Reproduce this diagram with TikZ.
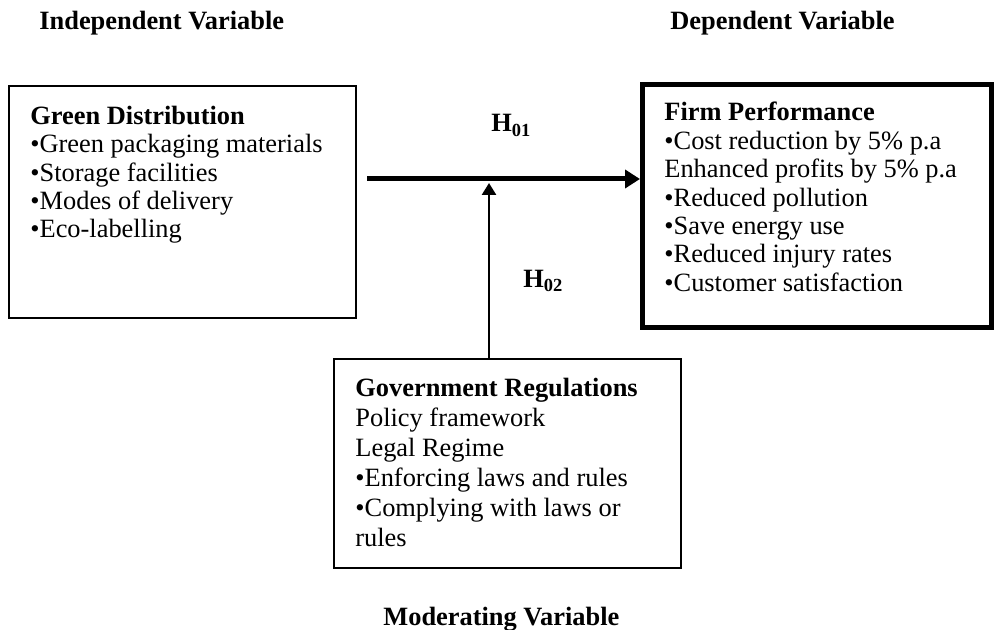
\documentclass[tikz,border=0pt]{standalone}
\usepackage{fontspec}
\setmainfont{Liberation Serif}
\usetikzlibrary{positioning,arrows.meta}

\begin{document}
\begin{tikzpicture}[x=0.5pt,y=-0.5pt,
    font=\fontsize{13.2pt}{14.2pt}\selectfont,
    varbox/.style={draw, line width=0.8pt, anchor=north west, inner sep=0pt},
    boxtext/.style={align=left, inner sep=0pt},
    heading/.style={font=\fontsize{13.2pt}{14.2pt}\selectfont\bfseries, inner sep=0pt, anchor=base west},
    mainarrow/.style={line width=2.5pt, -{Triangle[length=7.5pt,width=9pt]}},
    modarrow/.style={line width=1.3pt, -{Triangle[length=6pt,width=7pt]}}]
  \useasboundingbox (0,0) rectangle (994,630);
  \node[varbox, minimum width=173.5pt, minimum height=116pt] (gd) at (8,85) {};
  \node[varbox, line width=2.5pt, minimum width=174.5pt, minimum height=121.5pt] (fp) at (640,82) {};
  \node[varbox, minimum width=173.5pt, minimum height=104.5pt] (gr) at (333,358) {};
  \node[boxtext, below right=10.3pt and 11pt of gd.north west] (gdtext)
    {\textbf{Green Distribution}\\•Green packaging materials\\•Storage facilities\\•Modes of delivery\\•Eco-labelling};
  \node[boxtext, below right=10pt and 12pt of fp.north west] (fptext)
    {\textbf{Firm Performance}\\•Cost reduction by 5\% p.a\\Enhanced profits by 5\% p.a\\•Reduced pollution\\•Save energy use\\•Reduced injury rates\\•Customer satisfaction};
  \node[boxtext, font=\fontsize{13.2pt}{15pt}\selectfont, below right=9.7pt and 11pt of gr.north west] (grtext)
    {\textbf{Government Regulations}\\Policy framework\\Legal Regime\\•Enforcing laws and rules\\•Complying with laws or\\rules};
  \coordinate (h1start) at (367,179);
  \coordinate (h1join) at (489,179);
  \draw[mainarrow] (h1start) -- (h1start -| fp.west);
  \draw[modarrow] (h1join |- gr.north) -- ([yshift=-2pt]h1join);
  \node[heading] (h01) at (491,132) {H\textsubscript{01}};
  \node[heading] (h02) at (523,287) {H\textsubscript{02}};
  \node[heading] (iv) at (39,30) {Independent Variable};
  \node[heading] (dv) at (670,30) {Dependent Variable};
  \node[heading] (mv) at (383,625) {Moderating Variable};
\end{tikzpicture}
\end{document}
